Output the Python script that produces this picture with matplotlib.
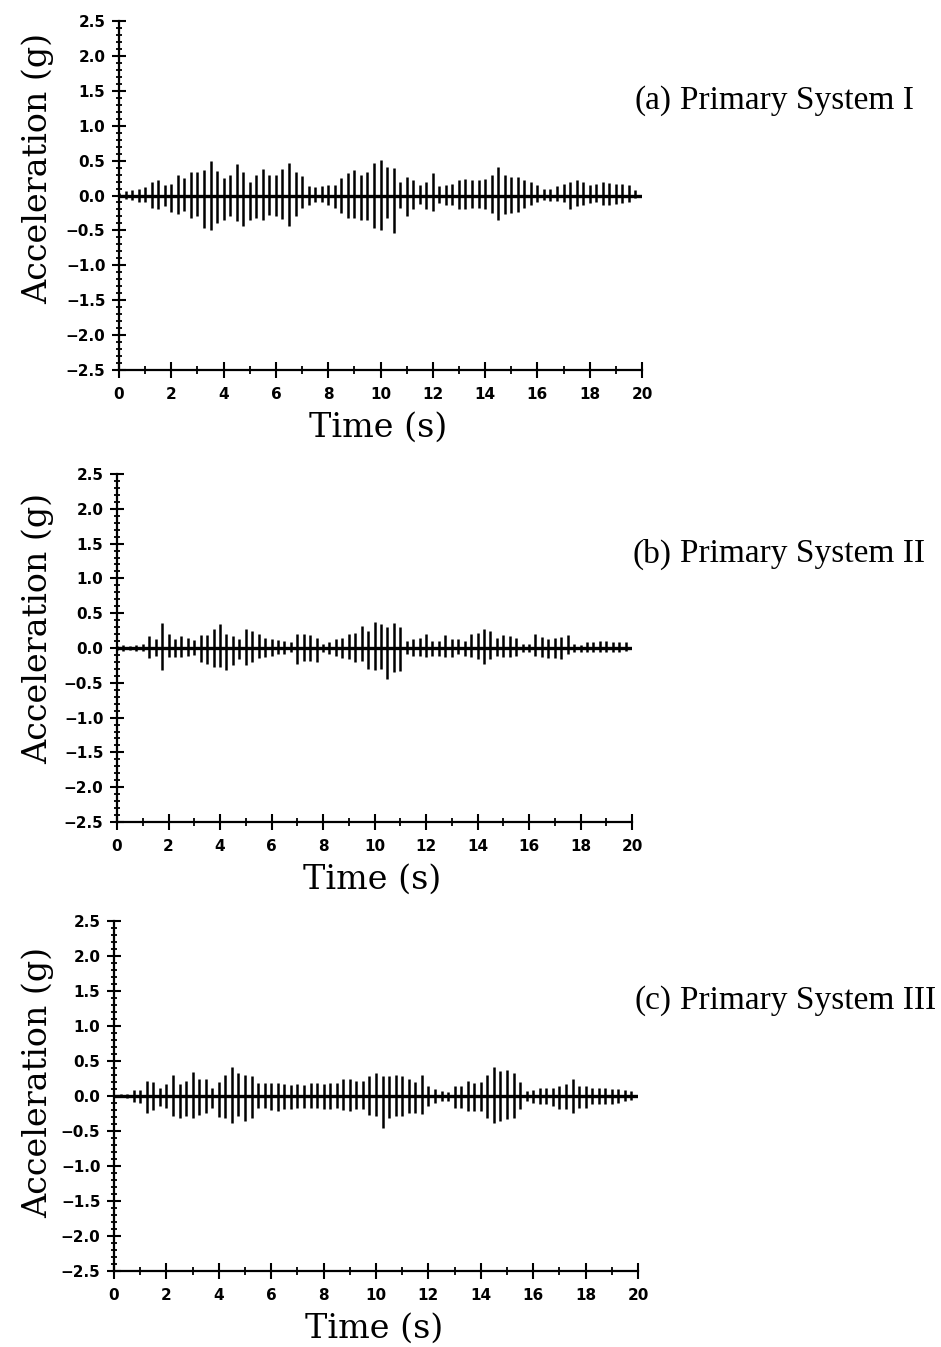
import numpy as np
import matplotlib.pyplot as plt
from matplotlib.ticker import MultipleLocator, FuncFormatter

# peak times (s), one positive and one negative swing every 0.25 s
peak_times = np.arange(0.0, 20.0, 0.25)

# panel (a) Primary System I : positive / negative peaks (g)
upper_a = [0.03, 0.06, 0.08, 0.10, 0.12, 0.20, 0.22, 0.15, 0.17, 0.29,
           0.25, 0.34, 0.33, 0.37, 0.50, 0.35, 0.25, 0.30, 0.45, 0.34,
           0.20, 0.30, 0.38, 0.30, 0.30, 0.38, 0.47, 0.34, 0.28, 0.13,
           0.12, 0.13, 0.15, 0.15, 0.25, 0.32, 0.37, 0.30, 0.34, 0.46,
           0.51, 0.41, 0.40, 0.20, 0.27, 0.22, 0.15, 0.20, 0.32, 0.13,
           0.15, 0.17, 0.22, 0.24, 0.22, 0.22, 0.24, 0.30, 0.41, 0.30,
           0.27, 0.27, 0.22, 0.20, 0.15, 0.10, 0.10, 0.13, 0.17, 0.20,
           0.22, 0.20, 0.15, 0.17, 0.20, 0.18, 0.17, 0.17, 0.15, 0.08]
lower_a = [-0.02, -0.05, -0.07, -0.09, -0.10, -0.18, -0.20, -0.15, -0.23, -0.27,
           -0.22, -0.32, -0.30, -0.47, -0.49, -0.40, -0.35, -0.30, -0.37, -0.44,
           -0.35, -0.32, -0.35, -0.28, -0.30, -0.33, -0.44, -0.30, -0.18, -0.13,
           -0.10, -0.09, -0.13, -0.18, -0.25, -0.32, -0.32, -0.35, -0.35, -0.47,
           -0.49, -0.32, -0.54, -0.18, -0.30, -0.20, -0.12, -0.20, -0.22, -0.11,
           -0.13, -0.13, -0.20, -0.19, -0.18, -0.18, -0.20, -0.25, -0.35, -0.27,
           -0.25, -0.23, -0.18, -0.14, -0.10, -0.06, -0.08, -0.08, -0.10, -0.20,
           -0.15, -0.14, -0.11, -0.09, -0.13, -0.13, -0.12, -0.11, -0.09, -0.04]

# panel (b) Primary System II
upper_b = [0.03, 0.04, 0.03, 0.05, 0.06, 0.17, 0.13, 0.36, 0.20, 0.13,
           0.17, 0.15, 0.11, 0.18, 0.18, 0.27, 0.35, 0.20, 0.17, 0.13,
           0.27, 0.25, 0.20, 0.15, 0.13, 0.11, 0.10, 0.08, 0.20, 0.20,
           0.18, 0.15, 0.06, 0.08, 0.13, 0.15, 0.20, 0.22, 0.32, 0.25,
           0.37, 0.34, 0.30, 0.36, 0.30, 0.10, 0.13, 0.14, 0.20, 0.10,
           0.10, 0.18, 0.13, 0.13, 0.10, 0.20, 0.22, 0.27, 0.25, 0.15,
           0.18, 0.17, 0.15, 0.06, 0.06, 0.20, 0.16, 0.13, 0.15, 0.16,
           0.18, 0.06, 0.05, 0.08, 0.08, 0.10, 0.10, 0.08, 0.08, 0.08]
lower_b = [-0.03, -0.04, -0.03, -0.04, -0.05, -0.15, -0.11, -0.32, -0.13, -0.13,
           -0.13, -0.11, -0.10, -0.20, -0.23, -0.27, -0.27, -0.32, -0.25, -0.16,
           -0.25, -0.20, -0.14, -0.13, -0.11, -0.09, -0.08, -0.06, -0.23, -0.18,
           -0.18, -0.20, -0.06, -0.08, -0.11, -0.14, -0.16, -0.20, -0.18, -0.30,
           -0.32, -0.30, -0.45, -0.35, -0.33, -0.09, -0.11, -0.12, -0.13, -0.11,
           -0.11, -0.13, -0.13, -0.09, -0.11, -0.13, -0.16, -0.23, -0.16, -0.11,
           -0.13, -0.13, -0.11, -0.06, -0.06, -0.11, -0.13, -0.14, -0.15, -0.16,
           -0.09, -0.06, -0.06, -0.06, -0.06, -0.06, -0.06, -0.06, -0.06, -0.04]

# panel (c) Primary System III
upper_c = [0.02, 0.03, 0.03, 0.08, 0.09, 0.22, 0.20, 0.12, 0.17, 0.30,
           0.17, 0.22, 0.35, 0.24, 0.25, 0.12, 0.20, 0.30, 0.42, 0.33,
           0.30, 0.28, 0.19, 0.19, 0.18, 0.19, 0.17, 0.16, 0.17, 0.16,
           0.19, 0.19, 0.17, 0.19, 0.19, 0.24, 0.24, 0.21, 0.22, 0.28,
           0.33, 0.28, 0.28, 0.30, 0.28, 0.24, 0.20, 0.30, 0.14, 0.10,
           0.07, 0.06, 0.14, 0.15, 0.21, 0.19, 0.20, 0.30, 0.41, 0.36,
           0.37, 0.33, 0.20, 0.07, 0.08, 0.12, 0.12, 0.12, 0.15, 0.17,
           0.25, 0.15, 0.14, 0.12, 0.12, 0.12, 0.10, 0.10, 0.08, 0.07]
lower_c = [-0.02, -0.02, -0.03, -0.08, -0.10, -0.24, -0.20, -0.14, -0.17, -0.29,
           -0.31, -0.29, -0.32, -0.27, -0.24, -0.17, -0.30, -0.32, -0.39, -0.29,
           -0.36, -0.31, -0.17, -0.17, -0.20, -0.21, -0.19, -0.19, -0.17, -0.17,
           -0.17, -0.17, -0.19, -0.19, -0.17, -0.20, -0.21, -0.19, -0.19, -0.27,
           -0.29, -0.46, -0.31, -0.29, -0.29, -0.24, -0.24, -0.26, -0.14, -0.10,
           -0.07, -0.07, -0.17, -0.17, -0.21, -0.21, -0.21, -0.31, -0.38, -0.36,
           -0.33, -0.31, -0.19, -0.07, -0.10, -0.12, -0.12, -0.14, -0.19, -0.19,
           -0.24, -0.17, -0.17, -0.12, -0.12, -0.12, -0.12, -0.10, -0.07, -0.05]

panel_titles = ['(a)', '(b)', '(c)']
system_names = ['Primary System I', 'Primary System II', 'Primary System III']

W, H = 941, 1347
fig = plt.figure(figsize=(W / 100, H / 100), dpi=100)

# axes boxes in pixels: left, right (x=0, x=20), top (2.5), bottom (-2.5)
boxes = [(119, 642, 21, 370), (117, 632, 474, 822), (114, 638, 921, 1271)]
ylab_centre = [168, 628, 1082]
series = [(upper_a, lower_a), (upper_b, lower_b), (upper_c, lower_c)]

minus_fmt = FuncFormatter(lambda v, pos: ('%.1f' % v).replace('-', '\u2212'))

for i, ((x0, x1, y0, y1), (up, lo)) in enumerate(zip(boxes, series)):
    ax = fig.add_axes([x0 / W, 1 - y1 / H, (x1 - x0) / W, (y1 - y0) / H])

    # each swing drawn as a vertical stroke from the negative to the positive peak
    ax.vlines(peak_times, lo, up, color='black', lw=1.8)
    ax.plot([0, 20], [0, 0], color='black', lw=2.4)

    ax.set_xlim(0, 20)
    ax.set_ylim(-2.5, 2.5)
    for s in ['top', 'right']:
        ax.spines[s].set_visible(False)
    for s in ['left', 'bottom']:
        ax.spines[s].set_linewidth(1.6)

    ax.xaxis.set_major_locator(MultipleLocator(2))
    ax.xaxis.set_minor_locator(MultipleLocator(1))
    ax.yaxis.set_major_locator(MultipleLocator(0.5))
    ax.yaxis.set_minor_locator(MultipleLocator(0.1))
    ax.yaxis.set_major_formatter(minus_fmt)

    ax.tick_params(axis='y', which='major', direction='inout', length=9.5,
                   width=1.5, pad=5, labelsize=11)
    ax.tick_params(axis='y', which='minor', direction='inout', length=5,
                   width=1.3)
    ax.tick_params(axis='x', which='major', direction='inout', length=12,
                   width=1.5, pad=6, labelsize=11)
    ax.tick_params(axis='x', which='minor', direction='inout', length=6,
                   width=1.3)
    for lab in ax.get_xticklabels() + ax.get_yticklabels():
        lab.set_fontweight('bold')

    fig.text(38 / W, 1 - ylab_centre[i] / H, 'Acceleration (g)',
             rotation=90, ha='center', va='center', family='DejaVu Serif',
             fontsize=24)
    fig.text(((x0 + x1) / 2 - 2) / W, 1 - (y1 + 58) / H, 'Time (s)',
             ha='center', va='center', family='DejaVu Serif', fontsize=24)

    ty = 1 - (y0 + 80) / H
    fig.text(672 / W, ty, panel_titles[i], ha='right', va='center',
             family='Liberation Serif', fontsize=24)
    fig.text(680 / W, ty, system_names[i], ha='left', va='center',
             family='Liberation Serif', fontsize=24)

plt.savefig('out.png', dpi=100)
